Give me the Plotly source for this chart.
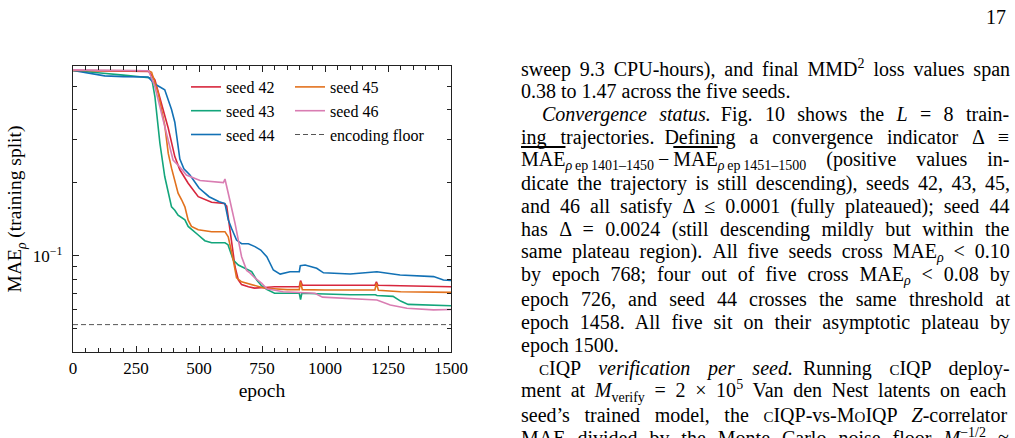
import math
import re
import plotly.graph_objects as go

# ---------------- data ----------------
epochs_42 = [0, 100, 200, 300, 325, 351, 378, 404, 424, 457, 497, 550, 600, 610, 618, 629, 643, 656, 669, 696, 720, 760,
             800, 850, 898, 903, 910, 1000, 1100, 1198, 1204, 1210, 1300, 1400, 1500]
mae_42 = [0.580, 0.578, 0.577, 0.575, 0.530, 0.425, 0.335, 0.256, 0.226, 0.199, 0.175, 0.166, 0.164, 0.160, 0.140, 0.112,
          0.090, 0.0794, 0.0760, 0.0745, 0.0735, 0.0740, 0.0745, 0.0745, 0.0745, 0.0790, 0.0755, 0.0755, 0.0755, 0.0755,
          0.0780, 0.0755, 0.0752, 0.0750, 0.0745]

epochs_43 = [0, 50, 120, 200, 300, 312, 325, 345, 364, 391, 404, 417, 444, 457, 497, 523, 550, 603, 615, 623, 636, 656,
             682, 709, 729, 749, 770, 800, 850, 898, 903, 908, 1000, 1100, 1200, 1206, 1270, 1300, 1330, 1400, 1500]
mae_43 = [0.580, 0.575, 0.565, 0.555, 0.545, 0.540, 0.453, 0.290, 0.212, 0.159, 0.154, 0.147, 0.1405, 0.132, 0.1217,
          0.1153, 0.1131, 0.1131, 0.111, 0.1055, 0.096, 0.0915, 0.0887, 0.086, 0.0794, 0.0750, 0.0725, 0.0700, 0.0700,
          0.0700, 0.0660, 0.0700, 0.0695, 0.0690, 0.0690, 0.0685, 0.0680, 0.0650, 0.0630, 0.0625, 0.0622]

epochs_44 = [0, 46, 126, 200, 298, 325, 364, 391, 404, 424, 440, 464, 500, 540, 580, 603, 616, 629, 649, 669, 696, 722,
             745, 769, 795, 822, 861, 898, 902, 921, 967, 994, 1100, 1206, 1298, 1431, 1470, 1500]
mae_44 = [0.580, 0.568, 0.551, 0.547, 0.545, 0.510, 0.4825, 0.400, 0.355, 0.250, 0.228, 0.215, 0.190, 0.175, 0.167,
          0.164, 0.1405, 0.1297, 0.116, 0.112, 0.112, 0.109, 0.1055, 0.099, 0.0873, 0.0840, 0.0859, 0.0860, 0.0910,
          0.0915, 0.0887, 0.0850, 0.0840, 0.0859, 0.0833, 0.0820, 0.0794, 0.0790]

epochs_45 = [0, 100, 200, 300, 312, 338, 364, 378, 391, 417, 431, 444, 457, 470, 497, 550, 603, 616, 636, 649, 669, 709,
             762, 850, 898, 903, 910, 1000, 1198, 1204, 1212, 1300, 1400, 1500]
mae_45 = [0.580, 0.579, 0.578, 0.578, 0.570, 0.468, 0.345, 0.264, 0.2295, 0.181, 0.170, 0.159, 0.140, 0.132, 0.128,
          0.1256, 0.1256, 0.1197, 0.096, 0.081, 0.078, 0.076, 0.0734, 0.0725, 0.0725, 0.0780, 0.0725, 0.0722, 0.0722,
          0.0770, 0.0720, 0.0710, 0.0708, 0.0706]

epochs_46 = [0, 100, 200, 300, 325, 364, 397, 424, 450, 504, 597, 603, 612, 622, 643, 669, 689, 702, 722, 749, 769, 834,
             900, 960, 990, 1100, 1206, 1259, 1325, 1430, 1500]
mae_46 = [0.583, 0.581, 0.579, 0.578, 0.498, 0.340, 0.248, 0.232, 0.215, 0.204, 0.200, 0.207, 0.190, 0.170, 0.136,
          0.099, 0.087, 0.085, 0.081, 0.077, 0.073, 0.071, 0.0705, 0.0700, 0.0675, 0.0667, 0.0657, 0.0626, 0.0607,
          0.0598, 0.0600]

floor_epochs = [0, 1500]
floor_value = [0.052, 0.052]

seed_names = ["seed 42", "seed 43", "seed 44", "seed 45", "seed 46"]
seed_colors = ["#d7263d", "#13a57b", "#1271b5", "#e2711d", "#d97db2"]

x_major = [0, 250, 500, 750, 1000, 1250, 1500]
x_minor = [50, 100, 150, 200, 300, 350, 400, 450, 550, 600, 650, 700, 800, 850, 900, 950,
           1050, 1100, 1150, 1200, 1300, 1350, 1400, 1450]
y_major = [0.1]
y_major_text = ["10<sup>−1</sup>"]
y_minor = [0.05, 0.06, 0.07, 0.08, 0.09, 0.2, 0.3, 0.4, 0.5, 0.6]
y_range = [0.0401, 0.605]

SC = "<span style='font-size:15px'>"
OL = "<span style='text-decoration:overline'>"
# (left edge in px, text, justified?)
page_lines = [
    (519, "sweep 9.3 CPU-hours), and final MMD<sup>2</sup> loss values span", True),
    (519, "0.38 to 1.47 across the five seeds.", False),
    (540, "<i>Convergence</i> <i>status.</i>\u2002Fig. 10 shows the <i>L</i> = 8 train-", True),
    (519, "ing trajectories.\u2002Defining a convergence indicator Δ ≡", True),
    (519, OL + "MAE</span><sub><i>ρ</i>\u2009ep\u20091401–1450</sub>\u2009−\u2009" + OL
     + "MAE</span><sub><i>ρ</i>\u2009ep\u20091451–1500</sub> (positive values in-", True),
    (519, "dicate the trajectory is still descending), seeds 42, 43, 45,", True),
    (519, "and 46 all satisfy Δ ≤ 0.0001 (fully plateaued); seed 44", True),
    (519, "has Δ = 0.0024 (still descending mildly but within the", True),
    (519, "same plateau region).\u2002All five seeds cross MAE<sub><i>ρ</i></sub> &lt; 0.10", True),
    (519, "by epoch 768; four out of five cross MAE<sub><i>ρ</i></sub> &lt; 0.08 by", True),
    (519, "epoch 726, and seed 44 crosses the same threshold at", True),
    (519, "epoch 1458.\u2002All five sit on their asymptotic plateau by", True),
    (519, "epoch 1500.", False),
    (537, SC + "C</span>IQP <i>verification</i> <i>per</i> <i>seed.</i>\u2002Running " + SC
     + "C</span>IQP deploy-", True),
    (519, "ment at <i>M</i><sub>verify</sub> = 2 × 10<sup>5</sup> Van den Nest latents on each", True),
    (519, "seed’s trained model, the " + SC + "C</span>IQP-vs-M" + SC + "O</span>IQP <i>Z</i>-correlator", True),
    (519, "MAE divided by the Monte Carlo noise floor <i>M</i><sup>−1/2</sup> ≈", True),
]
TEXT_RIGHT = 1008
TEXT_SIZE = 20
LINE_TOP = 68
LINE_STEP = 23.1

# Times / Liberation Serif advance widths (1/1000 em)
CHAR_W = {' ': 250, '(': 333, ')': 333, ',': 250, '-': 333, '.': 250, '/': 278, ':': 278, ';': 278,
          '<': 564, '=': 564, '>': 564, '’': 333, '–': 500, '−': 564, '×': 564, '≈': 549, '≤': 549,
          '≡': 564, 'Δ': 612, 'ρ': 500, '\u2002': 500, '\u2009': 200,
          'A': 722, 'B': 667, 'C': 667, 'D': 722, 'E': 611, 'F': 556, 'G': 722, 'H': 722, 'I': 333,
          'J': 389, 'K': 722, 'L': 611, 'M': 889, 'N': 722, 'O': 722, 'P': 556, 'Q': 722, 'R': 667,
          'S': 556, 'T': 611, 'U': 722, 'V': 722, 'W': 944, 'X': 722, 'Y': 722, 'Z': 611,
          'a': 444, 'b': 500, 'c': 444, 'd': 500, 'e': 444, 'f': 333, 'g': 500, 'h': 500, 'i': 278,
          'j': 278, 'k': 500, 'l': 278, 'm': 778, 'n': 500, 'o': 500, 'p': 500, 'q': 500, 'r': 333,
          's': 389, 't': 278, 'u': 500, 'v': 500, 'w': 722, 'x': 500, 'y': 500, 'z': 444}
ENT = {"&lt;": "<", "&gt;": ">", "&amp;": "&"}


def measure(html, size):
    total, spaces, stack, i = 0.0, 0, [1.0], 0
    while i < len(html):
        ch = html[i]
        if ch == "<":
            j = html.index(">", i)
            tag = html[i + 1:j].strip()
            if tag.startswith("/"):
                stack.pop()
            else:
                name = tag.split()[0]
                s = stack[-1]
                if name in ("sub", "sup"):
                    s *= 0.7
                m = re.search(r"font-size:\s*([\d.]+)px", tag)
                if m:
                    s = float(m.group(1)) / size
                stack.append(s)
            i = j + 1
            continue
        if ch == "&":
            j = html.index(";", i)
            ch = ENT.get(html[i:j + 1], "?")
            i = j + 1
        else:
            i += 1
        if ch == " ":
            spaces += 1
        total += CHAR_W.get(ch, 500) * stack[-1]
    return total * size / 1000.0, spaces


# ---------------- layout geometry ----------------
W, H = 1015, 438
L, R, T, B = 73, 451, 66, 352
PW, PH = R - L, B - T


def px_x(px):
    return (px - L) / PW


def px_y(py):
    return (B - py) / PH


SERIF = "Liberation Serif"

fig = go.Figure()

all_epochs = [epochs_42, epochs_43, epochs_44, epochs_45, epochs_46]
all_mae = [mae_42, mae_43, mae_44, mae_45, mae_46]
legends = ["legend", "legend", "legend", "legend2", "legend2"]
for i in range(5):
    fig.add_trace(go.Scatter(
        x=all_epochs[i], y=all_mae[i], mode="lines", name=seed_names[i],
        line=dict(color=seed_colors[i], width=1.6), legend=legends[i],
        legendgroup=seed_names[i], showlegend=True))

fig.add_trace(go.Scatter(
    x=floor_epochs, y=floor_value, mode="lines", name="encoding floor",
    line=dict(color="#555555", width=1, dash="5px,3px"), legend="legend2",
    legendgroup="floor"))

axis_common = dict(showline=True, linecolor="#222222", linewidth=1.3, mirror="allticks",
                   ticks="inside", tickcolor="#222222", tickwidth=1, showgrid=False, zeroline=False)

fig.update_xaxes(range=[0, 1500], tickmode="array", tickvals=x_major, ticktext=[str(v) for v in x_major],
                 ticklen=6, tickfont=dict(family=SERIF, size=17, color="black"),
                 minor=dict(tickmode="array", tickvals=x_minor, ticks="inside", ticklen=3.5,
                            tickcolor="#222222", tickwidth=1, showgrid=False),
                 title=dict(text="epoch", font=dict(family=SERIF, size=19.5, color="black"), standoff=6),
                 automargin=False, **axis_common)

fig.update_yaxes(type="log", range=[math.log10(y_range[0]), math.log10(y_range[1])], tickmode="array",
                 tickvals=y_major, ticktext=y_major_text, ticklen=6,
                 tickfont=dict(family=SERIF, size=17, color="black"), ticklabelstandoff=6,
                 minor=dict(tickmode="array", tickvals=y_minor, ticks="inside", ticklen=4,
                            tickcolor="#222222", tickwidth=1, showgrid=False),
                 title=dict(text="MAE<sub><i>ρ</i></sub> (training split)",
                            font=dict(family=SERIF, size=19.5, color="black"), standoff=5),
                 automargin=False, **axis_common)

legend_common = dict(font=dict(family=SERIF, size=16, color="black"), bgcolor="rgba(0,0,0,0)",
                     borderwidth=0, tracegroupgap=0, xanchor="left", yanchor="top", orientation="v")
fig.update_layout(
    width=W, height=H, margin=dict(l=L, r=W - R, t=T, b=H - B),
    paper_bgcolor="white", plot_bgcolor="white",
    legend=dict(x=px_x(186), y=px_y(70), **legend_common),
    legend2=dict(x=px_x(290), y=px_y(70), **legend_common),
)

annotations = []
for i, (xpx, txt, justify) in enumerate(page_lines):
    ypx = LINE_TOP + i * LINE_STEP
    if justify:
        natural, n_sp = measure(txt, TEXT_SIZE)
        ws = max(0.0, (TEXT_RIGHT - xpx - natural) / max(n_sp, 1))
        txt = "<span style='word-spacing:%.2fpx'>%s</span>" % (ws, txt)
    annotations.append(dict(x=px_x(xpx), y=px_y(ypx), xref="paper", yref="paper", text=txt,
                            showarrow=False, xanchor="left", yanchor="middle", align="left",
                            font=dict(family=SERIF, size=TEXT_SIZE, color="black")))
annotations.append(dict(x=px_x(1008), y=px_y(17), xref="paper", yref="paper", text="17",
                        showarrow=False, xanchor="right", yanchor="middle",
                        font=dict(family=SERIF, size=20, color="black")))
fig.update_layout(annotations=annotations)

fig.write_html("out.html")
